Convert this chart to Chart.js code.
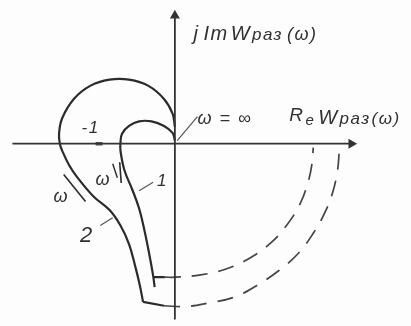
<!DOCTYPE html>
<html>
<head>
<meta charset="utf-8">
<script src="https://cdn.jsdelivr.net/npm/chart.js@4"></script>
<style>
  html, body { margin: 0; padding: 0; background: #fdfdfd; }
  canvas { display: block; }
</style>
</head>
<body>
<canvas id="nyquist" width="411" height="326"></canvas>
<script>
// curve 2 (outer hodograph), solid part
const outerRe = [0.00, -0.03, -0.14, -0.34, -0.59, -0.84, -1.09, -1.30, -1.45, -1.49, -1.48, -1.45, -1.36, -1.26, -1.05, -0.84, -0.70, -0.59, -0.51, -0.45, -0.41];
const outerIm = [0.22, 0.39, 0.58, 0.75, 0.83, 0.83, 0.75, 0.58, 0.33, 0.13, 0.00, -0.09, -0.28, -0.43, -0.68, -0.86, -1.06, -1.30, -1.59, -1.84, -2.05];
const outerTailRe = [-0.41, -0.14];
const outerTailIm = [-2.05, -2.10];
// curve 2 continued at infinity (dashed)
const outerArcRe = [-0.14, 0.14, 0.45, 0.76, 1.05, 1.33, 1.58, 1.78, 1.93, 2.03, 2.09, 2.11, 2.11];
const outerArcIm = [-2.10, -2.11, -2.06, -1.99, -1.84, -1.65, -1.43, -1.16, -0.89, -0.63, -0.36, -0.15, -0.05];

// curve 1 (inner hodograph)
const innerRe = [0.00, -0.03, -0.14, -0.30, -0.46, -0.59, -0.68, -0.70, -0.70, -0.65, -0.55, -0.46, -0.39, -0.33, -0.28, -0.26];
const innerIm = [0.04, 0.14, 0.23, 0.29, 0.29, 0.23, 0.13, 0.01, -0.09, -0.34, -0.59, -0.84, -1.13, -1.43, -1.71, -1.86];
const innerTailRe = [-0.28, -0.13];
const innerTailIm = [-1.73, -1.73];
const innerArcRe = [-0.13, 0.01, 0.33, 0.64, 0.95, 1.23, 1.45, 1.61, 1.71, 1.76, 1.78];
const innerArcIm = [-1.73, -1.73, -1.70, -1.63, -1.49, -1.29, -1.04, -0.78, -0.51, -0.28, -0.05];

// coordinate axes
const reAxisRe = [-2.09, 2.27];
const reAxisIm = [0, 0];
const imAxisRe = [0, 0];
const imAxisIm = [-2.28, 1.66];

// direction marks for rising ω and label leaders
const omegaOuterRe = [-1.43, -1.15];
const omegaOuterIm = [-0.40, -0.75];
const omegaInnerRe = [-0.71, -0.69];
const omegaInnerIm = [-0.24, -0.51];
const omegaInnerTickRe = [-0.80, -0.74];
const omegaInnerTickIm = [-0.26, -0.44];
const leaderInfRe = [0.29, 0.03];
const leaderInfIm = [0.35, 0.04];
const leader1Re = [-0.46, -0.28];
const leader1Im = [-0.61, -0.50];
const leader2Re = [-0.96, -0.80];
const leader2Im = [-1.06, -0.96];
const minusOneRe = [-1.02, -0.93];
const minusOneIm = [0, 0];

const ink = '#2b2b2b';

function pts(re, im) {
  return re.map((r, i) => ({ x: r, y: im[i] }));
}

function line(re, im, opts = {}) {
  return Object.assign({
    data: pts(re, im),
    showLine: true,
    borderColor: ink,
    borderWidth: 2.2,
    pointRadius: 0,
    tension: 0,
    fill: false
  }, opts);
}

// text pieces: [string, font size, baseline shift, extra gap after]
const texts = [
  { parts: [['j', 20, 0, 4], ['Im', 20, 0, 2], ['W', 20, 0, 1], ['раз', 17, 0, 4], ['(ω)', 18]], re: 0.24, im: 1.35 },
  { parts: [['R', 19, -3, 1], ['e', 15, 1, 3], ['W', 20, 0, 1], ['раз', 17, 0, 1], ['(ω)', 17]], re: 1.47, im: 0.25 },
  { parts: [['ω = ∞', 18]], re: 0.29, im: 0.26 },
  { parts: [['-1', 17]], re: -1.2, im: 0.14 },
  { parts: [['ω', 18]], re: -1.56, im: -0.75 },
  { parts: [['ω', 18]], re: -1.02, im: -0.54 },
  { parts: [['1', 17]], re: -0.23, im: -0.55 },
  { parts: [['2', 22]], re: -1.22, im: -1.275 }
];

const textPlugin = {
  id: 'handLabels',
  afterDatasetsDraw(chart) {
    const { ctx, scales } = chart;
    ctx.save();
    ctx.fillStyle = '#303030';
    ctx.textBaseline = 'alphabetic';
    ctx.letterSpacing = '1.5px';
    texts.forEach(t => {
      let x = scales.x.getPixelForValue(t.re);
      const y = scales.y.getPixelForValue(t.im);
      t.parts.forEach(([s, size, shift, gap]) => {
        ctx.font = `italic ${size}px "Liberation Sans", sans-serif`;
        ctx.fillText(s, x, y + (shift || 0));
        x += ctx.measureText(s).width + (gap || 0);
      });
    });
    ctx.restore();
  }
};

new Chart(document.getElementById('nyquist'), {
  type: 'scatter',
  data: {
    datasets: [
      line(reAxisRe, reAxisIm, { borderWidth: 1.8, borderColor: '#333',
        pointRadius: [0, 4], pointStyle: 'triangle', rotation: 90, pointBackgroundColor: '#333' }),
      line(imAxisRe, imAxisIm, { borderWidth: 1.8, borderColor: '#333',
        pointRadius: [0, 4], pointStyle: 'triangle', pointBackgroundColor: '#333' }),
      line(minusOneRe, minusOneIm, { borderWidth: 3.5, borderColor: '#555' }),
      line(outerRe, outerIm, { tension: 0.4 }),
      line(outerTailRe, outerTailIm),
      line(outerArcRe, outerArcIm, { tension: 0.4, borderWidth: 1.7, borderColor: '#444', borderDash: [16, 11] }),
      line(innerRe, innerIm, { tension: 0.4 }),
      line(innerTailRe, innerTailIm),
      line(innerArcRe, innerArcIm, { tension: 0.4, borderWidth: 1.7, borderColor: '#444', borderDash: [16, 11] }),
      line(omegaOuterRe, omegaOuterIm, { borderWidth: 1.6 }),
      line(omegaInnerRe, omegaInnerIm, { borderWidth: 1.6 }),
      line(omegaInnerTickRe, omegaInnerTickIm, { borderWidth: 1.4 }),
      line(leaderInfRe, leaderInfIm, { borderWidth: 1.2, borderColor: '#555' }),
      line(leader1Re, leader1Im, { borderWidth: 1.2, borderColor: '#555' }),
      line(leader2Re, leader2Im, { borderWidth: 1.2, borderColor: '#555' })
    ]
  },
  options: {
    responsive: false,
    animation: false,
    layout: { padding: 0 },
    plugins: { legend: { display: false }, tooltip: { enabled: false } },
    scales: {
      x: { type: 'linear', min: -2.175, max: 2.9625, display: false },
      y: { type: 'linear', min: -2.2875, max: 1.7875, display: false }
    }
  },
  plugins: [textPlugin]
});
</script>
</body>
</html>
